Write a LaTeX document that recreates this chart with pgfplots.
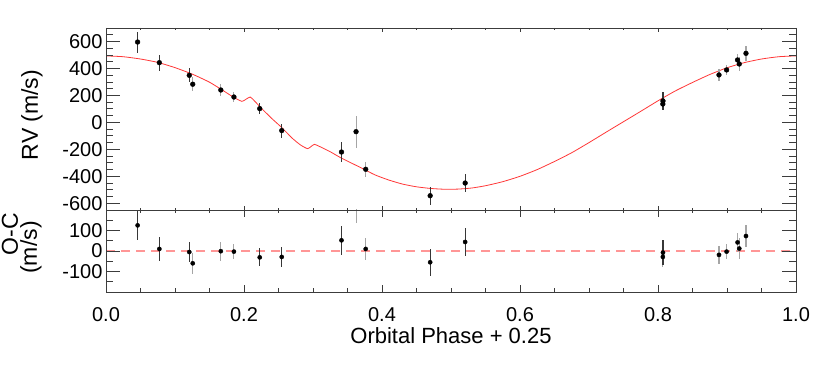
\documentclass[border=0pt]{standalone}
\usepackage{fontspec}
\setmainfont{Liberation Sans}
\usepackage{pgfplots}
\usepackage{pgfplotstable}
\pgfplotsset{compat=1.18}

\definecolor{fitred}{RGB}{255,55,55}
\definecolor{zerored}{RGB}{255,150,150}
\definecolor{bardark}{RGB}{55,55,55}
\definecolor{barlight}{RGB}{165,165,165}
\definecolor{frame}{RGB}{60,60,60}

% phase, RV, error -- two groups of points (dark / light error bars)
\pgfplotstableread{
x y e
0.0458 596 78
0.0773 443 59
0.1207 349 52
0.2228 102 41
0.2547 -61 52
0.3413 -220 73
0.4698 -544 68
0.5205 -450 70
0.8072 159 68
}\rvdark
\pgfplotstableread{
x y e
0.1257 283 50
0.1664 240 48
0.1854 188 37
0.3624 -69 119
0.3764 -348 56
0.8070 136 45
0.8884 352 45
0.8994 389 37
0.9153 463 45
0.9178 433 50
0.9275 512 54
}\rvlight
\pgfplotstableread{
x y e
0.0458 125 73
0.0773 10 59
0.1207 -5 51
0.2228 -31 44
0.2547 -29 49
0.3413 52 70
0.4698 -55 66
0.5205 44 69
0.8072 -8 62
}\ocdark
\pgfplotstableread{
x y e
0.1257 -60 50
0.1664 -1 47
0.1854 -3 37
0.3624 255 120
0.3764 10 55
0.8070 -29 47
0.8884 -19 45
0.8994 -3 37
0.9153 42 45
0.9178 12 50
0.9275 73 54
}\oclight

\pgfplotsset{
  panel/.style={
    scale only axis, width=690pt, xmin=0, xmax=1,
    anchor=south west,
    axis line style={frame, line width=0.9pt},
    tick style={frame, line width=0.8pt},
    tick label style={font=\fontsize{20}{23}\selectfont},
    /pgf/number format/assume math mode=true,
  },
  pts/.style={only marks, mark=*, mark size=#1, black,
    error bars/y dir=both, error bars/y explicit, error bars/error mark=none},
}

\begin{document}
\begin{tikzpicture}
\path[use as bounding box] (0,0) rectangle (830pt,380pt);

% ---- top panel: RV ----
\begin{axis}[panel, at={(106pt,170pt)}, height=182pt,
    ymin=-650, ymax=700,
    xtick={0,0.2,...,1}, minor x tick num=3, xticklabels={},
    ytick=\empty,
    major tick length=4pt, minor tick length=2pt]
\addplot[fitred, line width=0.8pt, smooth, tension=0.35] coordinates {
  (0.000,493) (0.025,487) (0.050,470) (0.075,445) (0.100,406)
  (0.125,358) (0.150,298) (0.170,235) (0.185,186) (0.197,156)
  (0.203,172) (0.209,188) (0.215,160) (0.225,106) (0.240,30)
  (0.255,-40) (0.270,-118) (0.282,-168) (0.292,-195) (0.297,-180)
  (0.302,-163) (0.310,-180) (0.325,-218) (0.340,-262) (0.355,-300)
  (0.370,-338) (0.390,-390) (0.410,-428) (0.430,-458) (0.450,-478)
  (0.470,-490) (0.490,-496) (0.510,-495) (0.530,-487) (0.550,-470)
  (0.575,-440) (0.600,-400) (0.625,-350) (0.650,-290) (0.675,-225)
  (0.700,-150) (0.725,-72) (0.750,5) (0.775,82) (0.800,160)
  (0.825,233) (0.850,296) (0.875,355) (0.900,405) (0.925,443)
  (0.950,470) (0.975,487) (1.000,493)
};
\addplot[pts=2.4pt, error bars/error bar style={barlight, line width=1.1pt}]
  table[x=x, y=y, y error=e] {\rvlight};
\addplot[pts=2.4pt, error bars/error bar style={bardark, line width=1.1pt}]
  table[x=x, y=y, y error=e] {\rvdark};
\end{axis}
\begin{axis}[panel, at={(106pt,170pt)}, height=182pt,
    ymin=-650, ymax=700, xtick=\empty,
    ytick={-600,-400,...,600},
    minor ytick={-550,-500,-450,-350,-300,-250,-150,-100,-50,50,100,150,250,300,350,450,500,550,650},
    major tick length=14pt, minor tick length=7pt]
\end{axis}

% ---- bottom panel: O-C ----
\begin{axis}[panel, at={(106pt,88pt)}, height=82pt,
    ymin=-200, ymax=200,
    xtick={0,0.2,...,1}, minor x tick num=3,
    xticklabel style={/pgf/number format/.cd, fixed, fixed zerofill, precision=1},
    xticklabel shift=12pt,
    ytick=\empty,
    major tick length=7pt, minor tick length=3.5pt]
\addplot[zerored, line width=1.3pt, dash pattern=on 9pt off 6pt] coordinates {(0,0) (1,0)};
\addplot[pts=2.1pt, error bars/error bar style={barlight, line width=1.1pt}]
  table[x=x, y=y, y error=e] {\oclight};
\addplot[pts=2.1pt, error bars/error bar style={bardark, line width=1.1pt}]
  table[x=x, y=y, y error=e] {\ocdark};
\end{axis}
\begin{axis}[panel, at={(106pt,88pt)}, height=82pt,
    ymin=-200, ymax=200, xtick=\empty,
    ytick={-100,0,100}, minor ytick={-150,-50,50,150},
    major tick length=14pt, minor tick length=7pt]
\end{axis}

% ---- axis titles ----
\node[anchor=base, font=\fontsize{22}{26}\selectfont] at (451pt,36pt) {Orbital Phase + 0.25};
\node[rotate=90, font=\fontsize{23}{27}\selectfont] at (32pt,265pt) {RV (m/s)};
\node[rotate=90, font=\fontsize{23}{27}\selectfont] at (10pt,146pt) {O-C};
\node[rotate=90, font=\fontsize{23}{27}\selectfont] at (31pt,132.5pt) {(m/s)};
\end{tikzpicture}
\end{document}
